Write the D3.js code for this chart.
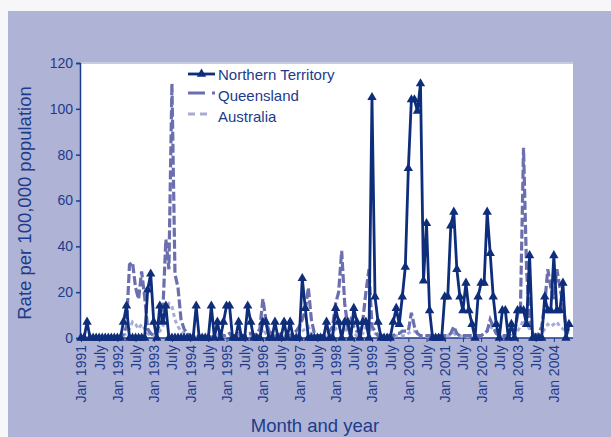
<!DOCTYPE html>
<html><head><meta charset="utf-8">
<script src="https://cdn.jsdelivr.net/npm/d3@7"></script>
<style>body{margin:0;background:#fff}</style>
</head><body><svg id="c" width="611" height="437"></svg>
<script>
const years = [1991,1992,1993,1994,1995,1996,1997,1998,1999,2000,2001,2002,2003,2004];
const monthNames = ["Jan","Feb","Mar","Apr","May","Jun","Jul","Aug","Sep","Oct","Nov","Dec"];
const seriesNames = ["Northern Territory","Queensland","Australia"];
const yTicks = [0,20,40,60,80,100,120];

const ntRates = [
 0,0,7,0,0,0,0,0,0,0,0,0,
 0,0,7,14,0,0,0,0,0,0,21,28,
 7,0,14,7,14,0,0,0,0,0,0,0,
 0,0,14,0,0,0,0,14,0,7,0,7,
 14,14,0,0,7,0,0,14,7,0,0,0,
 7,7,0,0,7,0,0,7,0,7,0,0,
 0,26,13,0,0,0,0,0,0,7,0,0,
 13,7,0,7,7,0,13,7,0,7,7,0,
 105,18,7,0,0,0,0,7,13,6,18,31,
 74,104,104,99,111,25,50,12,0,0,0,0,
 18,18,49,55,30,18,12,24,12,6,0,18,
 24,24,55,37,18,6,0,12,12,0,6,0,
 12,12,12,6,36,0,0,0,0,18,12,12,
 36,12,12,24,0,6];
const qldRates = [
 0,0,0,0,0,0,0,0,0,0,0,0,
 0,0,2,5,32,33,22,17,29,18,4,2,
 1,3,6,12,43,30,111,28,22,8,4,2,
 1,0,1,1,0,1,1,0,1,1,2,1,
 1,2,1,1,2,1,1,2,2,1,2,4,
 17,8,3,2,1,1,2,1,1,1,2,3,
 5,8,12,22,8,2,1,1,1,2,3,5,
 15,20,38,15,5,8,5,3,3,8,20,30,
 5,3,1,1,1,1,1,1,2,2,3,3,
 3,11,5,2,1,1,1,1,1,1,1,1,
 1,1,2,5,2,1,1,1,1,1,1,1,
 1,2,3,8,5,2,1,1,1,1,2,2,
 10,14,83,30,8,2,1,2,5,15,30,22,
 17,30,22,15,5,3];
const ausRates = [
 0.5,0.5,0.5,0.5,0.5,0.5,0.5,0.5,0.5,0.5,0.5,0.5,
 0.5,0.5,1,2,4,7,6,4,6,4,2,1,
 1,2,3,5,12,15,14,8,5,3,2,1,
 1,0.5,0.5,0.5,0.5,0.5,0.5,0.5,0.5,0.5,0.5,0.5,
 0.5,1,0.5,0.5,1,0.5,0.5,1,1,0.5,1,1,
 4,2,1,1,0.5,0.5,1,0.5,0.5,0.5,1,1,
 2,3,4,5,2,1,0.5,0.5,0.5,1,1,2,
 4,5,6,4,2,2,2,1,1,2,5,7,
 3,2,1,1,0.5,0.5,0.5,0.5,1,1,1,1,
 2,3,3,2,1,1,0.5,0.5,0.5,0.5,0.5,0.5,
 1,1,1,2,1,1,0.5,0.5,0.5,0.5,0.5,1,
 1,2,3,5,4,2,1,0.5,0.5,0.5,1,1,
 3,5,8,6,4,2,1,1,2,4,6,5,
 6,7,5,4,3,2];

const navy = "#1d3b8b", ntCol = "#0e2d7a", qCol = "#6b6fae", aCol = "#a7abd9";
const months = [];
years.forEach(y => monthNames.forEach((m,i) => months.push({key: m + " " + y, m: i, y: y})));
const cats = months.slice(0, ntRates.length);

const svg = d3.select("#c");
const L = 80, R = 573, T = 63, B = 338;
const ff = "Arial, 'Liberation Sans', sans-serif";
svg.append("rect").attr("x",0).attr("y",0).attr("width",611).attr("height",437).attr("fill","#f7f7f9");
svg.append("rect").attr("x",8).attr("y",11).attr("width",603).attr("height",426).attr("fill","#afb3d6");
svg.append("rect").attr("x",L).attr("y",T).attr("width",R-L).attr("height",B-T).attr("fill","#ffffff");
svg.append("line").attr("x1",L).attr("x2",R).attr("y1",T).attr("y2",T).attr("stroke","#c9cbe3").attr("stroke-width",2);

const x = d3.scalePoint().domain(cats.map(d => d.key)).range([81, 569]);
const y = d3.scaleLinear().domain([0,120]).range([B, T]);

// axes
const yAx = svg.append("g").attr("transform",`translate(${L},0)`)
  .call(d3.axisLeft(y).tickValues(yTicks).tickSize(4).tickPadding(3));
yAx.selectAll("path,line").attr("stroke", navy).attr("stroke-width",1.5);
yAx.selectAll("text").attr("fill", navy).style("font","14px " + ff);

const xTickVals = cats.filter(d => d.m === 0 || d.m === 6).map(d => d.key);
const xAx = svg.append("g").attr("transform",`translate(0,${B})`)
  .call(d3.axisBottom(x).tickValues(xTickVals).tickSize(4)
    .tickFormat(k => { const c = cats.find(d => d.key === k); return c.m === 0 ? "Jan " + c.y : "July"; }));
xAx.select("path").attr("stroke", navy).attr("stroke-width",1.5).attr("d", `M${L},0H${R}`);
xAx.selectAll("line").attr("stroke", navy);
xAx.selectAll("text").attr("fill", navy).style("font","14px " + ff)
  .attr("transform","rotate(-90)").attr("text-anchor","end").attr("x",-7).attr("y",0).attr("dy","0.35em");

// lines
const line = vals => d3.line().x((d,i) => x(cats[i].key)).y(d => y(d))(vals);
svg.append("path").attr("d", line(ausRates)).attr("fill","none").attr("stroke",aCol)
  .attr("stroke-width",3).attr("stroke-dasharray","4,3");
svg.append("path").attr("d", line(qldRates)).attr("fill","none").attr("stroke",qCol)
  .attr("stroke-width",3.2).attr("stroke-dasharray","9,3");
svg.append("path").attr("d", line(ntRates)).attr("fill","none").attr("stroke",ntCol)
  .attr("stroke-width",2.8).attr("stroke-linejoin","round");
const tri = d3.symbol().type(d3.symbolTriangle).size(38);
svg.append("g").selectAll("path").data(ntRates).join("path")
  .attr("d", tri).attr("fill", ntCol)
  .attr("transform",(d,i) => `translate(${x(cats[i].key)},${y(d)})`);

// legend
const lg = svg.append("g");
lg.append("line").attr("x1",188).attr("x2",215).attr("y1",74).attr("y2",74).attr("stroke",ntCol).attr("stroke-width",2.8);
lg.append("path").attr("d",tri).attr("fill",ntCol).attr("transform","translate(201.5,74)");
lg.append("line").attr("x1",188).attr("x2",215).attr("y1",93).attr("y2",93).attr("stroke",qCol).attr("stroke-width",3.2).attr("stroke-dasharray","17,7");
lg.append("line").attr("x1",188).attr("x2",210).attr("y1",114).attr("y2",114).attr("stroke",aCol).attr("stroke-width",3).attr("stroke-dasharray","7,5");
seriesNames.forEach((n,i) => lg.append("text").attr("x",218).attr("y",[80,100.5,122][i]).text(n)
  .attr("fill",navy).style("font","15px " + ff));

// titles
svg.append("text").attr("transform","translate(31,203) rotate(-90)").attr("text-anchor","middle")
  .attr("fill",navy).style("font","18.5px " + ff).text("Rate per 100,000 population");
svg.append("text").attr("x",315).attr("y",432).attr("text-anchor","middle")
  .attr("fill",navy).style("font","18.5px " + ff).text("Month and year");
</script></body></html>
